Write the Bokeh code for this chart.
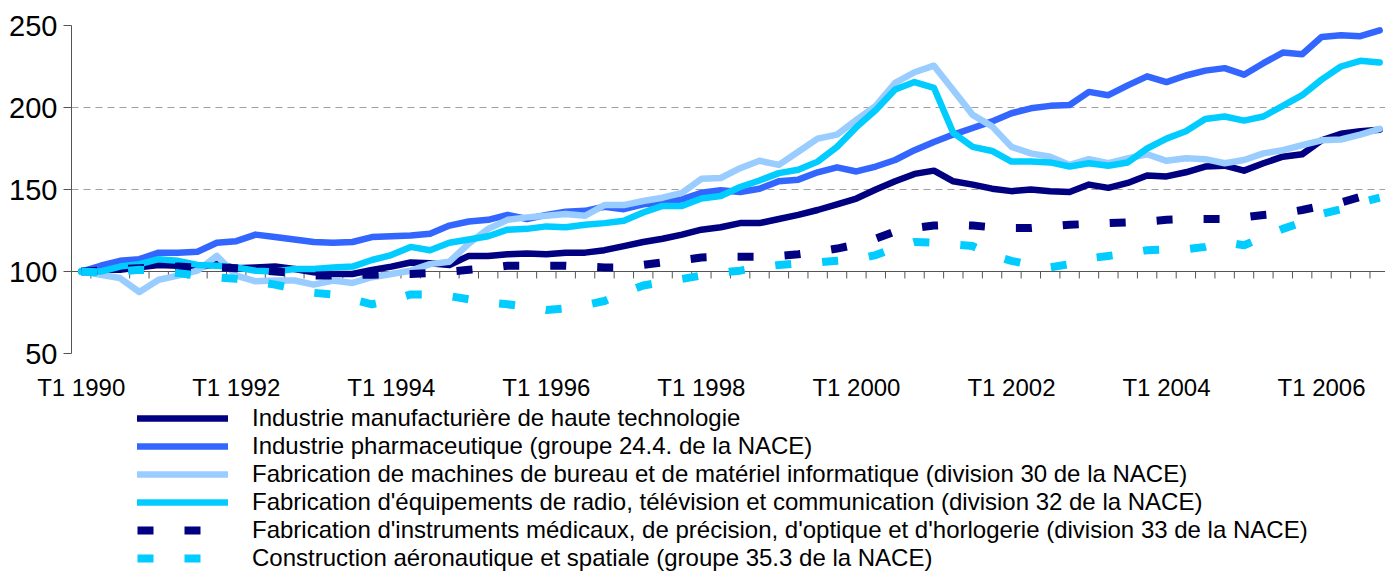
from bokeh.plotting import figure
from bokeh.layouts import column
from bokeh.models import Range1d, FixedTicker, Legend, LegendItem, Span
from bokeh.embed import file_html
from bokeh.resources import INLINE

# ---------------- data ----------------
quarters = list(range(68))  # T1 1990 ... T4 2006
label_positions = [0, 8, 16, 24, 32, 40, 48, 56, 64]
tick_labels = ["T1 1990", "T1 1992", "T1 1994", "T1 1996", "T1 1998",
               "T1 2000", "T1 2002", "T1 2004", "T1 2006"]
y_ticks = [50, 100, 150, 200, 250]
axis_cross = 100

names = [
    "Industrie manufacturière de haute technologie",
    "Industrie pharmaceutique (groupe 24.4. de la NACE)",
    "Fabrication de machines de bureau et de matériel informatique (division 30 de la NACE)",
    "Fabrication d'équipements de radio, télévision et communication (division 32 de la NACE)",
    "Fabrication d'instruments médicaux, de précision, d'optique et d'horlogerie (division 33 de la NACE)",
    "Construction aéronautique et spatiale (groupe 35.3 de la NACE)",
]

high_tech = [100, 101, 101, 102.5, 104, 103.5, 102.5, 104.5, 102, 102.5,
             103, 101.5, 99.5, 98.5, 98.5, 101, 103, 105.5, 105, 104,
             109.5, 109.5, 110.5, 111, 110.5, 111.5, 111.5, 113, 115.5, 118,
             120, 122.5, 125.5, 127, 129.5, 129.5, 132, 134.5, 137.5, 141,
             144.5, 150, 155, 159.5, 161.5, 155, 153, 150.5, 149, 150,
             149, 148.5, 153, 151, 154, 158.5, 158, 160.5, 164, 164.5,
             161.5, 166, 170, 171.5, 180, 184, 185.5, 186.5]

pharma = [100, 103.5, 106.5, 107.5, 111.5, 111.5, 112, 117.5, 118.5, 122.5,
          121, 119.5, 118, 117.5, 118, 121, 121.5, 122, 123, 128,
          130.5, 131.5, 134.5, 132, 134.5, 136.5, 137, 139.5, 138, 141,
          142, 144, 148, 149.5, 148.5, 150.5, 155, 156, 160.5, 163.5,
          161, 164, 168, 174, 179, 183.5, 187.5, 191.5, 196.5, 199.5,
          201, 201.5, 209.5, 207.5, 213.5, 219, 215.5, 219.5, 222.5, 224,
          220, 227, 233.5, 232.5, 243, 244, 243.5, 247]

office = [100, 98, 96, 87.5, 95, 97.5, 100.5, 109.5, 97.5, 94,
          94.5, 94.5, 92, 94.5, 93, 96.5, 98.5, 100.5, 104.5, 106,
          117, 126, 131.5, 133, 134, 135, 134, 140.5, 140.5, 143,
          145, 148, 156.5, 157, 163, 167.5, 165, 173, 181, 183.5,
          192.5, 201, 215, 221.5, 225.5, 210.5, 195.5, 188.5, 176, 172,
          170, 165, 168.5, 166, 169, 171.5, 167.5, 169, 168.5, 166,
          168, 172, 174, 177, 180, 180.5, 183.5, 187]

radio = [100, 100, 103, 104.5, 107.5, 106.5, 104, 103.5, 102.5, 100.5,
         100, 101.5, 101.5, 102.5, 103, 107, 110, 115, 113, 117.5,
         119.5, 121.5, 125.5, 126, 127.5, 127, 128.5, 129.5, 131, 136,
         140, 140, 144.5, 146, 151.5, 155.5, 160, 162, 167, 176,
         188, 198.5, 211, 215.5, 212, 184.5, 176, 173.5, 167, 167,
         166.5, 164, 166, 164.5, 166.5, 175, 181, 185.5, 193, 194.5,
         192, 194.5, 201, 207.5, 217, 225, 228.5, 227.5]

medical = [100, 100.5, 101.5, 102, 102.5, 103, 102.5, 102.5, 102, 101,
           100, 99, 97.5, 97.5, 98, 98, 98.5, 98.5, 99, 100,
           101, 102, 103.5, 103.5, 103.5, 103.5, 103, 102.5, 102.5, 104,
           105.5, 107, 108.5, 109, 109, 109, 109.5, 110.5, 112, 114,
           116.5, 120, 124.5, 126.5, 128, 128.5, 128, 127, 126.5, 126.5,
           127.5, 128.5, 129, 129.5, 130, 130.5, 131.5, 132, 132, 132,
           133, 134.5, 135.5, 137.5, 140, 142, 145.5, 148]

aero = [100, 99.5, 100, 101, 100.5, 99, 97.5, 96.5, 95.5, 94,
        92, 89.5, 87, 86, 83, 80, 82.5, 86, 86, 85,
        83, 81, 80, 78.5, 76.5, 77.5, 79.5, 82, 87, 91.5,
        93.5, 95.5, 97.5, 99.5, 100.5, 102.5, 104, 105, 105.5, 106.5,
        107.5, 110, 114.5, 118, 117.5, 116.5, 115.5, 110, 106.5, 104,
        102.5, 104.5, 108, 109.5, 111, 113, 113.5, 113.5, 115, 118,
        116, 121, 126, 130, 135, 138, 142, 145]

series = [high_tech, pharma, office, radio, medical, aero]
colors = ["#000080", "#3366FF", "#99CCFF", "#00CCFF", "#000080", "#00CCFF"]
dashes = ["solid", "solid", "solid", "solid", "16 31", "16 31"]

FONT = "Liberation Sans"
AXIS_COLOR = "#555555"


def line_style(c, d):
    if d == "solid":
        return dict(line_color=c, line_width=6.5, line_cap="round", line_join="round")
    return dict(line_color=c, line_width=8, line_dash=d, line_cap="butt", line_join="round")


# ---------------- chart ----------------
p = figure(width=1385, height=403, output_backend="svg", toolbar_location=None,
           x_range=Range1d(-0.5, 67.3), y_range=Range1d(50, 250),
           min_border_left=71, min_border_right=0, min_border_top=25,
           min_border_bottom=48)
p.outline_line_color = None
p.background_fill_color = "white"
p.border_fill_color = "white"

p.xgrid.visible = False
p.ygrid.ticker = FixedTicker(ticks=y_ticks)
p.ygrid.grid_line_color = "#A0A0A0"
p.ygrid.grid_line_dash = "7 5"
p.ygrid.grid_line_width = 1

p.yaxis.ticker = FixedTicker(ticks=y_ticks)
p.yaxis.axis_line_color = AXIS_COLOR
p.yaxis.major_tick_line_color = AXIS_COLOR
p.yaxis.major_tick_out = 8
p.yaxis.major_tick_in = 0
p.yaxis.minor_tick_line_color = None
p.yaxis.major_label_text_font = FONT
p.yaxis.major_label_text_font_size = "29px"
p.yaxis.major_label_text_color = "black"
p.yaxis.major_label_standoff = 6

p.xaxis.ticker = FixedTicker(ticks=label_positions)
p.xaxis.major_label_overrides = {k: v for k, v in zip(label_positions, tick_labels)}
p.xaxis.axis_line_color = None
p.xaxis.major_tick_line_color = None
p.xaxis.minor_tick_line_color = None
p.xaxis.major_tick_out = 0
p.xaxis.major_tick_in = 0
p.xaxis.major_label_standoff = 20
p.xaxis.major_label_text_font = FONT
p.xaxis.major_label_text_font_size = "24px"
p.xaxis.major_label_text_color = "black"

# category axis crossing at 100: line + tick marks between quarters
p.add_layout(Span(location=axis_cross, dimension="width", line_color=AXIS_COLOR,
                  line_width=1, level="underlay"))
boundaries = [q - 0.5 for q in quarters] + [quarters[-1] + 0.5]
tick_len = 7 / 1.65  # 7 px expressed in data units
p.segment(x0=boundaries, y0=[axis_cross] * len(boundaries),
          x1=boundaries, y1=[axis_cross - tick_len] * len(boundaries),
          line_color=AXIS_COLOR, line_width=1)

for vals, c, d in zip(series, colors, dashes):
    p.line(quarters, vals, **line_style(c, d))

# ---------------- legend (separate strip) ----------------
pl = figure(width=1385, height=169, output_backend="svg", toolbar_location=None,
            x_axis_location=None, y_axis_location=None,
            x_range=Range1d(0, 1), y_range=Range1d(0, 1),
            min_border_left=0, min_border_right=0, min_border_top=0, min_border_bottom=0)
pl.outline_line_color = None
pl.xgrid.visible = False
pl.ygrid.visible = False
pl.background_fill_color = "white"
pl.border_fill_color = "white"

items = []
for vals, n, c, d in zip(series, names, colors, dashes):
    # same series, outside this strip's visible range: only the legend swatch shows
    r = pl.line(quarters, vals, **line_style(c, d))
    items.append(LegendItem(label=n, renderers=[r]))

legend = Legend(items=items, location=(66, 0), orientation="vertical",
                glyph_width=91, glyph_height=26, label_height=26,
                label_standoff=24, spacing=0, padding=0, margin=0,
                border_line_color=None, background_fill_alpha=0,
                label_text_font=FONT, label_text_font_size="24px",
                label_text_color="black")
pl.add_layout(legend)

layout = column(p, pl, spacing=0)
open("out.html", "w").write(file_html(layout, INLINE))
